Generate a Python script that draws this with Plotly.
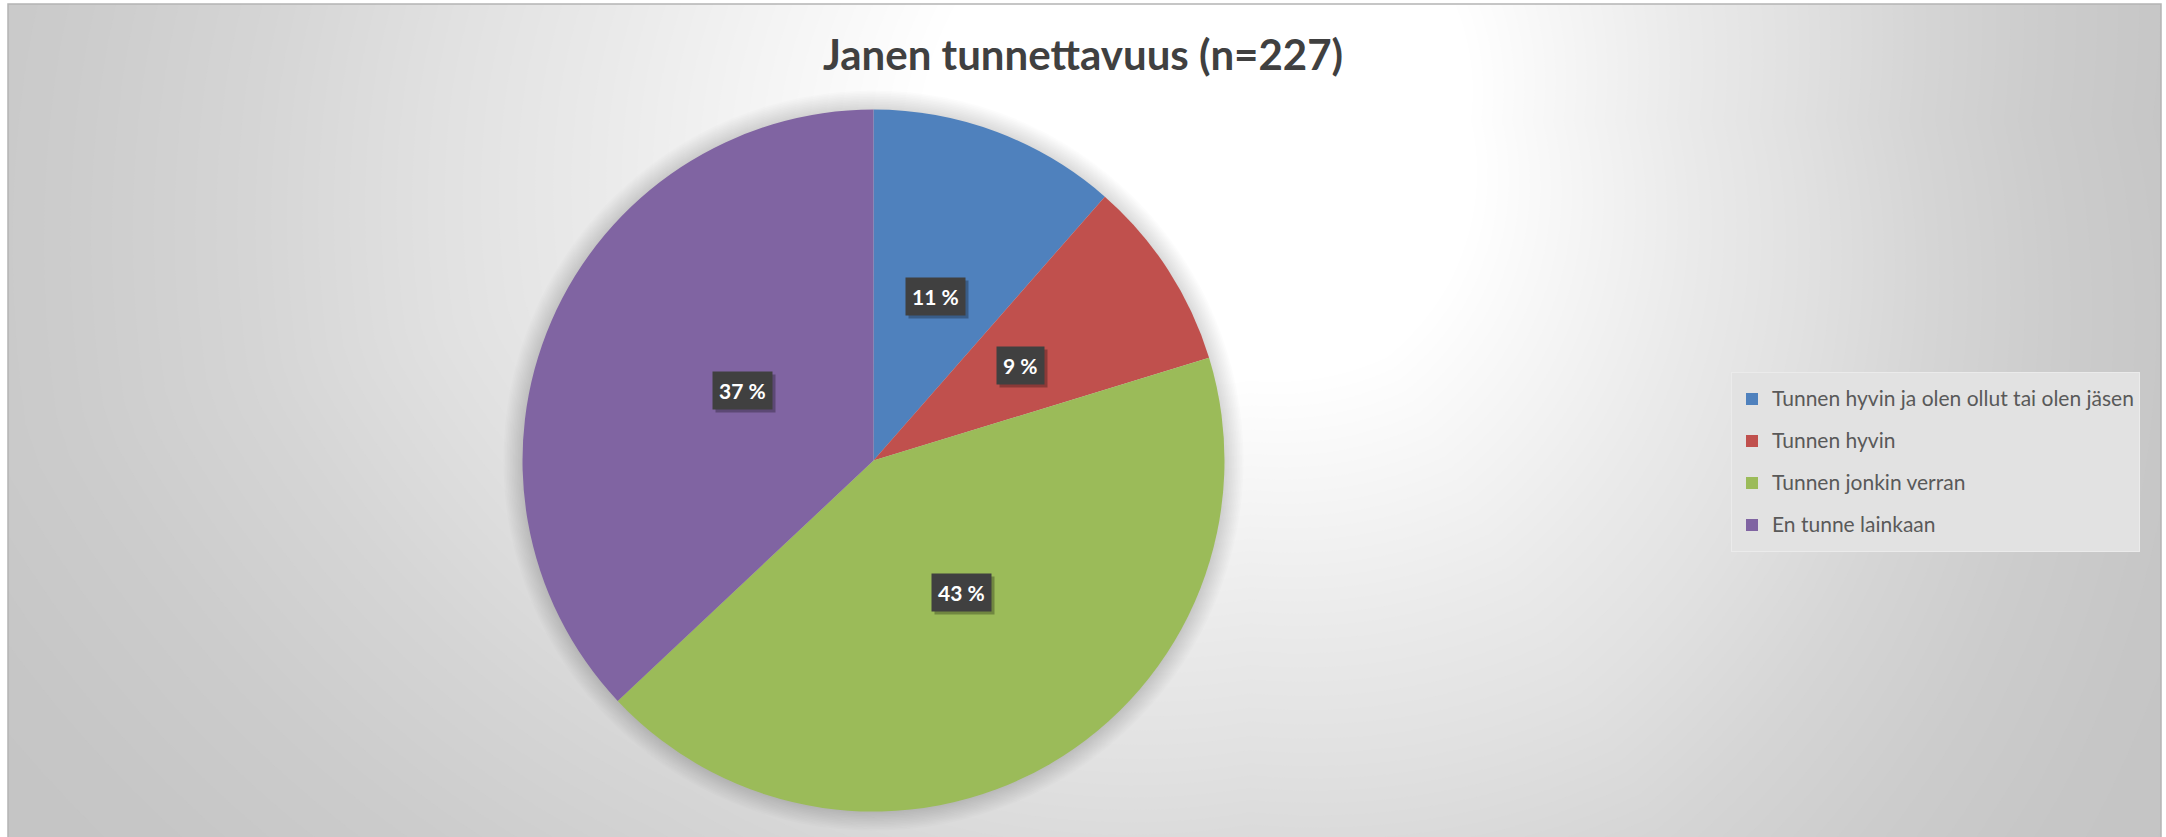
import math
import plotly.graph_objects as go

# ---------------- data ----------------
title_text = "Janen tunnettavuus (n=227)"
categories = [
    "Tunnen hyvin ja olen ollut tai olen jäsen",
    "Tunnen hyvin",
    "Tunnen jonkin verran",
    "En tunne lainkaan",
]
counts = [26, 20, 97, 84]
pct_labels = ["11 %", "9 %", "43 %", "37 %"]
colors = ["#4F81BD", "#C0504D", "#9BBB59", "#8064A2"]

# ---------------- layout geometry (styling) ----------------
W, H = 2166, 837
pie_cx, pie_cy, pie_r = 873.5, 460.6, 351.0          # pixels (from top)
dom_x = [(pie_cx - pie_r) / W, (pie_cx + pie_r) / W]
dom_y = [(H - pie_cy - pie_r) / H, (H - pie_cy + pie_r) / H]

def px_to_paper(x, y):
    return x / W, 1 - y / H

shapes = []
# chart area base fill
shapes.append(dict(type="rect", xref="paper", yref="paper", x0=0, x1=1,
                   y0=0, y1=1, fillcolor="rgb(194,194,194)", line=dict(width=0), layer="below"))

# background glow (solid grey bands, lightest near the top middle)
gcx, gcy = 1250, 120
glow_profile = [(0, 255), (260, 255), (520, 234), (650, 225), (800, 213), (950, 204),
                (1100, 198), (1300, 195), (1600, 194)]
band_scale = [(0, 0.83), (40, 0.97), (60, 1.03), (90, 0.98), (130, 1.10), (165, 1.28),
              (183, 1.24), (270, 1.0), (360, 0.83)]

def inv_prof(level):
    for (d0, c0), (d1, c1) in zip(glow_profile[:-1], glow_profile[1:]):
        if c1 <= level <= c0 and c0 != c1:
            return d0 + (c0 - level) * (d1 - d0) / (c0 - c1)
    return glow_profile[1][0]

def scale_at(deg):
    for (a0, s0), (a1, s1) in zip(band_scale[:-1], band_scale[1:]):
        if a0 <= deg <= a1:
            return s0 + (s1 - s0) * (deg - a0) / (a1 - a0)
    return band_scale[0][1]

def ring_path(r, n=180):
    pts = []
    for i in range(n):
        deg = 360.0 * i / n
        t = math.radians(deg)
        s = scale_at(deg)
        x = gcx + r * s * math.cos(t)
        y = gcy + r * s * math.sin(t)
        px, py = px_to_paper(x, y)
        pts.append(f"{px:.5f},{py:.5f}")
    return "M" + " L".join(pts) + " Z"

for level in range(195, 256):
    r = inv_prof(level - 0.5)
    shapes.append(dict(type="path", xref="paper", yref="paper", path=ring_path(r),
                       fillcolor=f"rgb({level},{level},{level})", line=dict(width=0), layer="below"))

# white outer margins around the chart area
for x0, x1, y0, y1 in [(0, 8 / W, 0, 1), (2161 / W, 1, 0, 1), (0, 1, 1 - 4 / H, 1)]:
    shapes.append(dict(type="rect", xref="paper", yref="paper", x0=x0, x1=x1, y0=y0, y1=y1,
                       fillcolor="white", line=dict(width=0), layer="below"))

# chart border
shapes.append(dict(type="rect", xref="paper", yref="paper", x0=8 / W, x1=2161 / W,
                   y0=-0.01, y1=1 - 4 / H, fillcolor="rgba(0,0,0,0)",
                   line=dict(color="#b4b4b4", width=1.5), layer="below"))

# soft shadow around the pie
for k in range(12, 0, -1):
    rr = pie_r + k * 1.6
    shapes.append(dict(type="circle", xref="paper", yref="paper",
                       x0=(pie_cx - rr) / W, x1=(pie_cx + rr) / W,
                       y0=(H - pie_cy - rr) / H, y1=(H - pie_cy + rr) / H,
                       fillcolor="black", opacity=0.011, line=dict(width=0), layer="below"))

fig = go.Figure()

legend_labels = [f'<span style="font-size:21px;baseline-shift:5px">{c}</span>' for c in categories]

fig.add_trace(go.Pie(
    labels=legend_labels,
    values=counts,
    sort=False,
    direction="clockwise",
    rotation=0,
    marker=dict(colors=colors, line=dict(width=0)),
    textinfo="none",
    hoverinfo="percent",
    domain=dict(x=dom_x, y=dom_y),
))

# data labels at half radius, mid-angle of each slice
total = sum(counts)
annotations = []
cum = 0
for v, t in zip(counts, pct_labels):
    mid = (cum + v / 2) / total * 2 * math.pi
    cum += v
    lx = pie_cx + 0.5 * pie_r * math.sin(mid)
    ly = pie_cy - 0.5 * pie_r * math.cos(mid)
    px, py = px_to_paper(lx, ly)
    annotations.append(dict(x=px, y=py, xref="paper", yref="paper", text=t, showarrow=False,
                            font=dict(family="Lato", size=21, color="rgba(0,0,0,0)", weight="bold"),
                            bgcolor="rgba(0,0,0,0.28)", borderpad=6, xshift=3, yshift=-3))
    annotations.append(dict(x=px, y=py, xref="paper", yref="paper", text=t, showarrow=False,
                            font=dict(family="Lato", size=21, color="white", weight="bold"),
                            bgcolor="#404040", borderpad=6))

fig.update_layout(
    width=W, height=H,
    margin=dict(l=0, r=0, t=0, b=0),
    paper_bgcolor="white",
    plot_bgcolor="white",
    title=dict(text=title_text, x=0.5, xanchor="center", y=1 - 55 / H, yanchor="middle",
               xref="paper", yref="paper",
               font=dict(family="Lato", size=42, color="#404040", weight="bold")),
    shapes=shapes,
    annotations=annotations,
    legend=dict(x=1731 / W, y=1 - 372 / H, xanchor="left", yanchor="top",
                bgcolor="#e2e2e2", bordercolor="#ebebeb", borderwidth=1,
                font=dict(family="Lato", size=30, color="#595959"),
                traceorder="normal"),
    showlegend=True,
)

fig.write_html("out.html")
